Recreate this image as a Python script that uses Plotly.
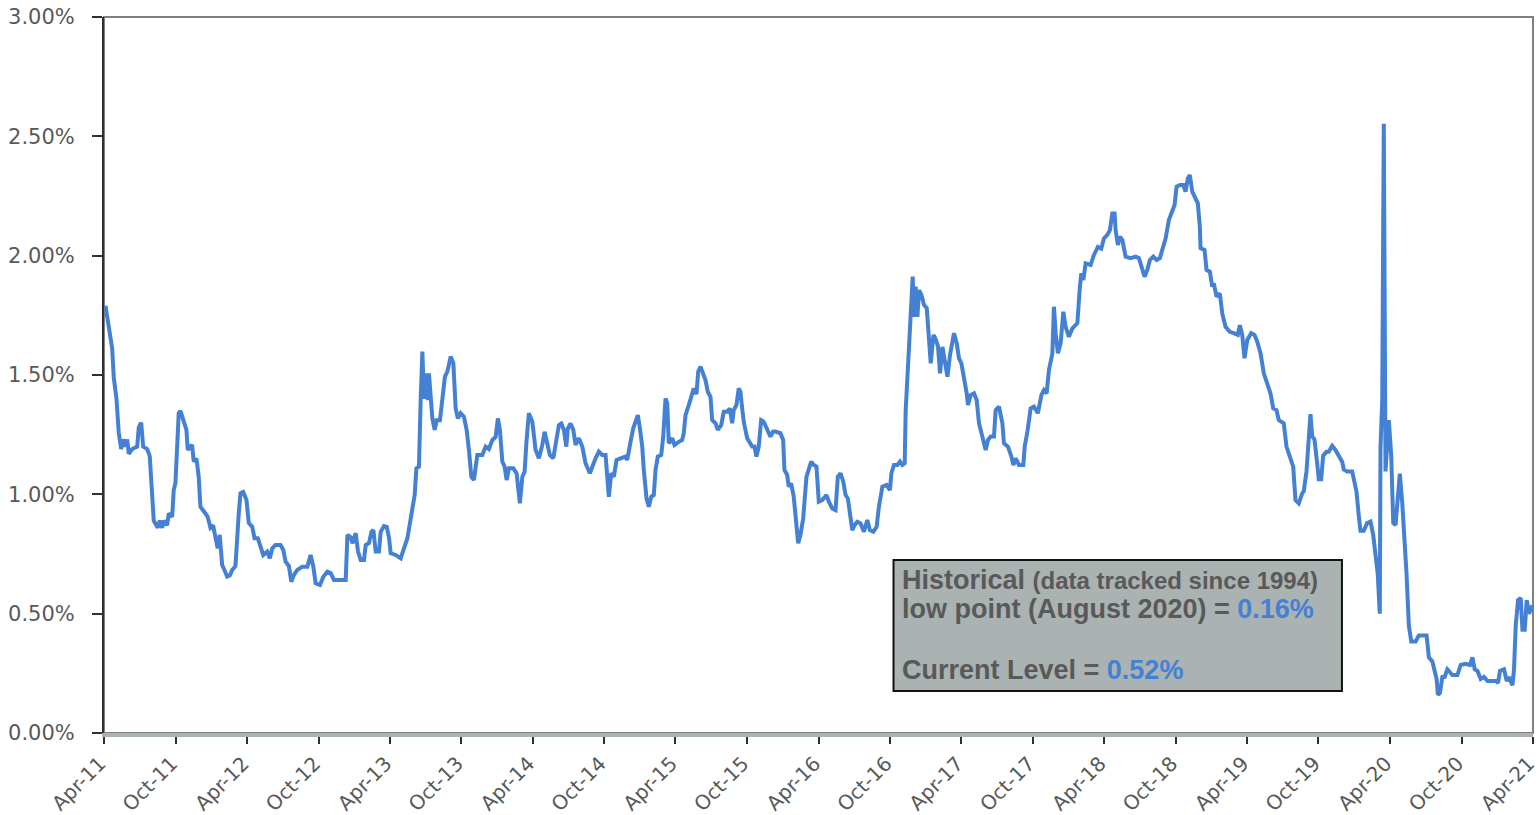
import plotly.graph_objects as go
from datetime import datetime

# decimal-year dates and values (%)
T = [2011.257, 2011.280, 2011.304, 2011.315, 2011.334, 2011.350, 2011.367, 2011.381, 2011.397, 2011.409,
     2011.420, 2011.444, 2011.479, 2011.490, 2011.507, 2011.521, 2011.549, 2011.567, 2011.584, 2011.595,
     2011.623, 2011.637, 2011.654, 2011.665, 2011.689, 2011.700, 2011.724, 2011.735, 2011.747, 2011.759,
     2011.770, 2011.782, 2011.801, 2011.824, 2011.833, 2011.864, 2011.875, 2011.894, 2011.910, 2011.922,
     2011.957, 2011.973, 2011.992, 2012.011, 2012.027, 2012.043, 2012.057, 2012.074, 2012.090, 2012.109,
     2012.127, 2012.144, 2012.167, 2012.174, 2012.190, 2012.202, 2012.221, 2012.244, 2012.260, 2012.284,
     2012.300, 2012.323, 2012.342, 2012.361, 2012.389, 2012.407, 2012.424, 2012.447, 2012.482, 2012.501,
     2012.517, 2012.540, 2012.557, 2012.575, 2012.599, 2012.634, 2012.669, 2012.692, 2012.711, 2012.727,
     2012.757, 2012.781, 2012.809, 2012.832, 2012.855, 2012.937, 2012.949, 2012.972, 2012.984, 2013.007,
     2013.023, 2013.042, 2013.065, 2013.077, 2013.100, 2013.117, 2013.131, 2013.147, 2013.170, 2013.182,
     2013.205, 2013.224, 2013.240, 2013.252, 2013.287, 2013.322, 2013.345, 2013.369, 2013.387,
     2013.404, 2013.420, 2013.432, 2013.450, 2013.462, 2013.474, 2013.485, 2013.504, 2013.513, 2013.520,
     2013.532, 2013.544, 2013.560, 2013.574, 2013.597, 2013.614, 2013.632, 2013.649, 2013.672, 2013.691,
     2013.707, 2013.723, 2013.742, 2013.765, 2013.784, 2013.800, 2013.817, 2013.835, 2013.859, 2013.894,
     2013.917, 2013.940, 2013.964, 2013.987, 2014.003, 2014.017, 2014.034, 2014.050, 2014.064, 2014.080,
     2014.111, 2014.134, 2014.157, 2014.174, 2014.190, 2014.204, 2014.220, 2014.244, 2014.267, 2014.290,
     2014.314, 2014.330, 2014.349, 2014.367, 2014.391, 2014.407, 2014.430, 2014.447, 2014.465, 2014.482,
     2014.493, 2014.512, 2014.531, 2014.547, 2014.570, 2014.594, 2014.617, 2014.647, 2014.664, 2014.687,
     2014.710, 2014.734, 2014.757, 2014.769, 2014.780, 2014.797, 2014.815, 2014.834, 2014.862, 2014.897,
     2014.909, 2014.920, 2014.932, 2014.951, 2014.967, 2014.983, 2014.997, 2015.014, 2015.025, 2015.044,
     2015.060, 2015.077, 2015.095, 2015.107, 2015.123, 2015.147, 2015.161, 2015.177, 2015.189, 2015.200,
     2015.224, 2015.240, 2015.270, 2015.294, 2015.305, 2015.317, 2015.340, 2015.364, 2015.375, 2015.394,
     2015.406, 2015.422, 2015.441,
     2015.457, 2015.473, 2015.492, 2015.504, 2015.527, 2015.543, 2015.567, 2015.585, 2015.609, 2015.627,
     2015.644, 2015.655, 2015.674, 2015.690, 2015.702, 2015.714, 2015.725, 2015.749, 2015.767, 2015.784,
     2015.800, 2015.814, 2015.830, 2015.847, 2015.865, 2015.889, 2015.912, 2015.931, 2015.947, 2015.982,
     2016.001, 2016.010, 2016.029, 2016.040, 2016.057, 2016.075, 2016.094, 2016.106, 2016.122, 2016.141,
     2016.164, 2016.180, 2016.197, 2016.215, 2016.234, 2016.250, 2016.274, 2016.304, 2016.320, 2016.344,
     2016.367, 2016.383, 2016.402, 2016.421, 2016.437, 2016.453, 2016.467, 2016.484, 2016.500, 2016.519,
     2016.542, 2016.565, 2016.589, 2016.607, 2016.631, 2016.654, 2016.670, 2016.694, 2016.724, 2016.747,
     2016.757, 2016.775, 2016.799, 2016.817, 2016.834, 2016.850, 2016.857, 2016.869, 2016.887, 2016.897,
     2016.906, 2016.915, 2016.927, 2016.939, 2016.950, 2016.967, 2016.985, 2017.004, 2017.020, 2017.032,
     2017.051, 2017.067, 2017.083, 2017.097, 2017.114, 2017.130, 2017.149, 2017.167, 2017.184, 2017.195,
     2017.214, 2017.230, 2017.247, 2017.265, 2017.284, 2017.293, 2017.312, 2017.335, 2017.354, 2017.370,
     2017.394, 2017.417, 2017.433, 2017.452, 2017.475, 2017.487, 2017.510, 2017.534,
     2017.545, 2017.573, 2017.597, 2017.611, 2017.627, 2017.650, 2017.681, 2017.690, 2017.709, 2017.732,
     2017.755, 2017.783, 2017.807, 2017.825, 2017.844, 2017.860, 2017.884, 2017.895, 2017.907, 2017.923,
     2017.942, 2017.961, 2017.977, 2018.000, 2018.024, 2018.059, 2018.077, 2018.087, 2018.101, 2018.117,
     2018.152, 2018.175, 2018.203, 2018.227, 2018.245, 2018.269, 2018.287, 2018.304, 2018.320, 2018.327,
     2018.343, 2018.357, 2018.374, 2018.397, 2018.432, 2018.467, 2018.490, 2018.514, 2018.530, 2018.549,
     2018.567, 2018.591, 2018.614, 2018.637, 2018.654, 2018.677, 2018.700, 2018.724, 2018.740, 2018.754,
     2018.777, 2018.801, 2018.817, 2018.833, 2018.847, 2018.864, 2018.880, 2018.903, 2018.917, 2018.922,
     2018.950, 2018.964, 2018.987, 2019.004, 2019.015, 2019.034, 2019.057, 2019.074, 2019.097, 2019.127,
     2019.155, 2019.183, 2019.197, 2019.214, 2019.230, 2019.249, 2019.277, 2019.300, 2019.319, 2019.342,
     2019.365, 2019.389, 2019.412, 2019.431, 2019.454, 2019.470, 2019.505, 2019.524, 2019.547, 2019.571,
     2019.587, 2019.610, 2019.634,
     2019.645, 2019.664, 2019.680, 2019.692, 2019.704, 2019.720, 2019.739, 2019.750, 2019.767, 2019.781,
     2019.804, 2019.820, 2019.844, 2019.867, 2019.890, 2019.914, 2019.925, 2019.949, 2019.984, 2020.000,
     2020.014, 2020.030, 2020.042, 2020.065, 2020.089, 2020.112, 2020.131, 2020.147, 2020.163, 2020.177,
     2020.182, 2020.194, 2020.205, 2020.217, 2020.240, 2020.257, 2020.271, 2020.287, 2020.303, 2020.317,
     2020.334, 2020.345, 2020.364, 2020.380, 2020.397, 2020.427, 2020.450, 2020.504, 2020.520, 2020.544,
     2020.560, 2020.574, 2020.583, 2020.597, 2020.614, 2020.630, 2020.649, 2020.684, 2020.719, 2020.742,
     2020.777, 2020.807, 2020.824, 2020.840, 2020.859, 2020.882, 2020.905, 2020.929, 2020.987, 2021.003,
     2021.017, 2021.045, 2021.064, 2021.080, 2021.104, 2021.115, 2021.127, 2021.143, 2021.162, 2021.174,
     2021.190, 2021.204, 2021.220, 2021.237, 2021.246]

V = [1.79, 1.70, 1.61, 1.49, 1.40, 1.257, 1.19, 1.23, 1.20, 1.23,
     1.17, 1.19, 1.20, 1.28, 1.30, 1.20, 1.19, 1.16, 1.005, 0.89,
     0.86, 0.89, 0.86, 0.89, 0.87, 0.92, 0.906, 1.018, 1.047, 1.228,
     1.34, 1.35, 1.31, 1.27, 1.186, 1.207, 1.137, 1.15, 1.074, 0.948,
     0.92, 0.906, 0.86, 0.87, 0.82, 0.774, 0.83, 0.704, 0.683, 0.655,
     0.66, 0.683, 0.70, 0.788, 0.92, 1.004, 1.01, 0.976, 0.88, 0.864,
     0.816, 0.816, 0.78, 0.746, 0.76, 0.732, 0.774, 0.788, 0.788, 0.767,
     0.718, 0.70, 0.634, 0.662, 0.683, 0.697, 0.697, 0.746, 0.697, 0.627,
     0.62, 0.655, 0.676, 0.67, 0.641, 0.641, 0.83, 0.82, 0.795, 0.837,
     0.76, 0.725, 0.725, 0.788, 0.795, 0.843, 0.85, 0.76, 0.76, 0.843,
     0.867, 0.864, 0.82, 0.753, 0.746, 0.732, 0.774, 0.816, 0.88,
     0.94, 0.997, 1.109, 1.116, 1.395, 1.598, 1.40, 1.507, 1.395, 1.507,
     1.41, 1.318, 1.27, 1.31, 1.31, 1.416, 1.493, 1.514, 1.577, 1.549,
     1.36, 1.318, 1.34, 1.325, 1.27, 1.186, 1.074, 1.06, 1.165, 1.165,
     1.20, 1.19, 1.228, 1.24, 1.318, 1.27, 1.137, 1.116, 1.06, 1.109,
     1.109, 1.088, 0.962, 1.074, 1.095, 1.228, 1.34, 1.304, 1.186, 1.151,
     1.207, 1.262, 1.207, 1.165, 1.151, 1.207, 1.29, 1.297, 1.27, 1.20,
     1.276, 1.297, 1.27, 1.207, 1.235, 1.20, 1.13, 1.088, 1.116, 1.151,
     1.179, 1.165, 1.165, 1.067, 0.99, 1.088, 1.074, 1.144, 1.151, 1.158,
     1.144, 1.193, 1.22, 1.277, 1.311, 1.332, 1.28, 1.20, 1.102, 0.983,
     0.948, 0.99, 0.997, 1.102, 1.158, 1.165, 1.242, 1.402, 1.38, 1.214,
     1.235, 1.207, 1.22, 1.228, 1.256, 1.332, 1.374, 1.416, 1.444, 1.42,
     1.514, 1.535, 1.507,
     1.479, 1.43, 1.409, 1.311, 1.298, 1.27, 1.29, 1.346, 1.346, 1.36,
     1.298, 1.353, 1.374, 1.444, 1.43, 1.36, 1.304, 1.235, 1.22, 1.20,
     1.20, 1.158, 1.20, 1.311, 1.304, 1.27, 1.242, 1.263, 1.263, 1.256,
     1.228, 1.102, 1.081, 1.032, 1.046, 0.99, 0.837, 0.795, 0.83, 0.90,
     1.074, 1.102, 1.137, 1.123, 1.116, 0.969, 0.976, 0.997, 0.969, 0.941,
     0.934, 1.074, 1.088, 1.053, 0.997, 0.983, 0.92, 0.85, 0.871, 0.885,
     0.878, 0.843, 0.892, 0.85, 0.843, 0.864, 0.948, 1.032, 1.039, 1.018,
     1.088, 1.123, 1.123, 1.137, 1.123, 1.13, 1.353, 1.493, 1.66, 1.80,
     1.912, 1.744, 1.87, 1.744, 1.856, 1.835, 1.793, 1.78, 1.66, 1.549,
     1.668, 1.65, 1.62, 1.507, 1.618, 1.563, 1.493, 1.584, 1.647, 1.675,
     1.633, 1.57, 1.549, 1.493, 1.423, 1.374, 1.416, 1.423, 1.395, 1.298,
     1.242, 1.186, 1.228, 1.242, 1.242, 1.353, 1.367, 1.298,
     1.214, 1.20, 1.158, 1.123, 1.151, 1.123, 1.123, 1.20, 1.262, 1.36,
     1.367, 1.34, 1.416, 1.437, 1.423, 1.521, 1.591, 1.786, 1.675, 1.591,
     1.633, 1.765, 1.702, 1.66, 1.695, 1.717, 1.87, 1.926, 1.898, 1.968,
     1.961, 2.003, 2.037, 2.03, 2.072, 2.087, 2.107, 2.177, 2.177, 2.107,
     2.045, 2.08, 2.066, 1.996, 1.99, 1.996, 1.99, 1.94, 1.912, 1.94,
     1.982, 1.996, 1.982, 1.99, 2.024, 2.072, 2.149, 2.19, 2.212, 2.289,
     2.296, 2.296, 2.268, 2.324, 2.338, 2.268, 2.247, 2.219, 2.121, 2.031,
     2.024, 1.94, 1.933, 1.87, 1.884, 1.828, 1.842, 1.758, 1.702, 1.681,
     1.675, 1.668, 1.709, 1.668, 1.57, 1.647, 1.675, 1.668, 1.64, 1.591,
     1.507, 1.465, 1.423, 1.36, 1.353, 1.311, 1.297, 1.20, 1.158, 1.116,
     0.976, 0.962, 1.004,
     1.013, 1.096, 1.211, 1.336, 1.244, 1.23, 1.129, 1.063, 1.063, 1.162,
     1.178, 1.178, 1.203, 1.186, 1.162, 1.137, 1.104, 1.096, 1.096, 1.046,
     1.013, 0.913, 0.847, 0.847, 0.88, 0.886, 0.83, 0.748, 0.665, 0.50,
     1.195, 1.394, 2.553, 1.096, 1.311, 1.162, 0.88, 0.871, 1.013, 1.087,
     0.964, 0.863, 0.665, 0.45, 0.383, 0.383, 0.408, 0.408, 0.317, 0.30,
     0.251, 0.226, 0.16, 0.168, 0.235, 0.235, 0.267, 0.243, 0.243, 0.285,
     0.29, 0.285, 0.317, 0.267, 0.26, 0.226, 0.235, 0.218, 0.218, 0.21,
     0.26, 0.267, 0.218, 0.235, 0.20, 0.267, 0.45, 0.557, 0.565, 0.433,
     0.433, 0.557, 0.50, 0.525, 0.52]

Y_TICKS = [0.0, 0.5, 1.0, 1.5, 2.0, 2.5, 3.0]
Y_TICK_LABELS = ["0.00%", "0.50%", "1.00%", "1.50%", "2.00%", "2.50%", "3.00%"]
X_START = "2011-04-01"
X_END = "2021-04-01 12:00"
LOW_TEXT = "0.16%"
CURRENT_TEXT = "0.52%"


def dec_to_date(t):
    y = int(t)
    a = datetime(y, 1, 1)
    b = datetime(y + 1, 1, 1)
    return a + (b - a) * (t - y)


dates = [dec_to_date(t) for t in T]

tickvals = []
for yr in range(2011, 2022):
    for m in (4, 10):
        d = datetime(yr, m, 1)
        if datetime(2011, 4, 1) <= d <= datetime(2021, 4, 1):
            tickvals.append(d)

BLUE = "#4481d4"
GREY_TXT = "#595959"

fig = go.Figure()
fig.add_trace(go.Scatter(x=dates, y=V, mode="lines",
                         line=dict(color=BLUE, width=4), hoverinfo="skip"))

fig.update_layout(
    width=1540, height=815,
    margin=dict(l=104, r=7, t=17, b=82, autoexpand=False),
    paper_bgcolor="white", plot_bgcolor="white",
    showlegend=False,
    font=dict(family="DejaVu Sans", color=GREY_TXT, size=20),
)

fig.update_xaxes(
    type="date", range=[X_START, X_END], automargin=False,
    tickvals=tickvals, tickformat="%b-%y", tickangle=-45,
    ticklabeloverflow="allow", ticklabelshift=-4,
    tickfont=dict(family="DejaVu Sans", size=20, color=GREY_TXT),
    showgrid=False, zeroline=False,
    showline=True, linecolor="#a8b4b4", linewidth=4,
    ticks="outside", ticklen=7, tickcolor="#303030", tickwidth=1.5,
)
fig.update_yaxes(
    range=[0, 3.0], automargin=False,
    tickvals=Y_TICKS, ticktext=Y_TICK_LABELS,
    tickfont=dict(family="DejaVu Sans", size=21, color=GREY_TXT),
    showgrid=False, zeroline=False,
    showline=True, linecolor="#303030", linewidth=2,
    ticks="outside", ticklen=10, tickcolor="#303030", tickwidth=1.5,
    ticklabelstandoff=13,
)

# plot border (top / right)
fig.add_shape(type="rect", xref="paper", yref="paper", x0=0, x1=1, y0=0, y1=1,
              line=dict(color="#808080", width=2), layer="below")

# annotation box
fig.add_shape(type="rect", xref="paper", yref="paper",
              x0=0.5525, x1=0.8663, y0=0.0587, y1=0.2416,
              fillcolor="#aab2b2", line=dict(color="#111111", width=2), layer="above")

AFONT = "Liberation Sans"
fig.add_annotation(xref="paper", yref="paper", x=0.5567, y=0.2137, xanchor="left", yanchor="middle",
                   showarrow=False, align="left",
                   text="<b>Historical <span style='font-size:24px'>(data tracked since 1994)</span></b>",
                   font=dict(family=AFONT, size=27, color=GREY_TXT))
fig.add_annotation(xref="paper", yref="paper", x=0.5567, y=0.1732, xanchor="left", yanchor="middle",
                   showarrow=False, align="left",
                   text="<b>low point (August 2020) = <span style='color:%s'>%s</span></b>" % (BLUE, LOW_TEXT),
                   font=dict(family=AFONT, size=27, color=GREY_TXT))
fig.add_annotation(xref="paper", yref="paper", x=0.5567, y=0.0880, xanchor="left", yanchor="middle",
                   showarrow=False, align="left",
                   text="<b>Current Level = <span style='color:%s'>%s</span></b>" % (BLUE, CURRENT_TEXT),
                   font=dict(family=AFONT, size=27, color=GREY_TXT))

fig.write_html(
    "out.html",
    config={"displayModeBar": False},
    post_script="document.body.style.margin='0';document.body.style.overflow='hidden';",
)
